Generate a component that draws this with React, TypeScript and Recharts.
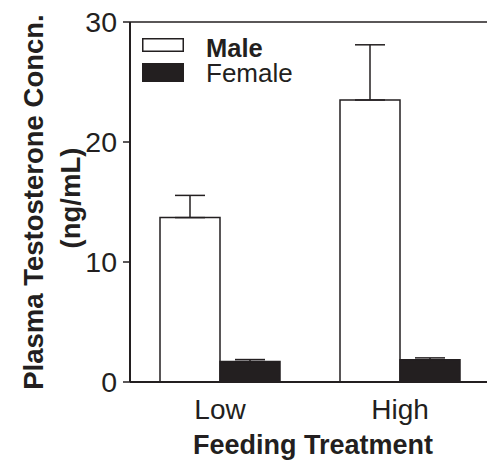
import { BarChart, Bar, XAxis, YAxis, ErrorBar, ReferenceLine, Label } from 'recharts'

const treatments = ['Low', 'High']
const maleMeans = [13.7, 23.5]
const maleSem = [1.85, 4.6]
const femaleMeans = [1.7, 1.85]
const femaleSem = [0.17, 0.16]
const yTicks = [0, 10, 20, 30]
const seriesNames = ['Male', 'Female']

const INK = '#231f20'
const FONT = '"Liberation Sans", Arial, Helvetica, sans-serif'

const data = treatments.map((t, i) => ({
  treatment: t,
  male: maleMeans[i],
  maleErr: [0, maleSem[i]],
  female: femaleMeans[i],
  femaleErr: [0, femaleSem[i]],
}))

function YTitle(props: any) {
  const vb = props.viewBox || { x: 0, y: 22, width: 130, height: 360 }
  const cy = vb.y + vb.height / 2
  const x1 = vb.x + 33
  const x2 = vb.x + 70
  return (
    <g>
      <text x={x1} y={cy} transform={`rotate(-90 ${x1} ${cy})`} textAnchor="middle" dominantBaseline="central"
        fontFamily={FONT} fontWeight="bold" fontSize={27.5} fill={INK}>
        Plasma Testosterone Concn.
      </text>
      <text x={x2} y={cy - 4} transform={`rotate(-90 ${x2} ${cy - 4})`} textAnchor="middle" dominantBaseline="central"
        fontFamily={FONT} fontWeight="bold" fontSize={27.5} fill={INK}>
        (ng/mL)
      </text>
    </g>
  )
}

export default function App() {
  return (
    <div style={{ position: 'absolute', left: 0, top: 0, width: 487, height: 462, overflow: 'hidden', background: '#fff' }}>
      <BarChart width={490} height={462} data={data} margin={{ top: 22, right: 0, left: 0, bottom: 0 }}
        barCategoryGap={30} barGap={0}>
        <XAxis dataKey="treatment" height={80} tickLine={false}
          axisLine={{ stroke: INK, strokeWidth: 2 }}
          tick={{ fontSize: 28, fill: INK, fontFamily: FONT }} tickMargin={11}>
          <Label value="Feeding Treatment" position="insideBottom" offset={8} dx={3}
            style={{ fontSize: 27, fontWeight: 'bold', fill: INK, fontFamily: FONT }} />
        </XAxis>
        <YAxis domain={[0, 30]} ticks={yTicks} width={130} tickSize={7} tickMargin={6}
          axisLine={{ stroke: INK, strokeWidth: 2 }} tickLine={{ stroke: INK, strokeWidth: 1.5 }}
          tick={{ fontSize: 28.5, fill: INK, fontFamily: FONT }} interval={0}>
          <Label content={<YTitle />} position="left" />
        </YAxis>
        <ReferenceLine y={30} stroke={INK} strokeWidth={1.5} />
        <Bar dataKey="male" name={seriesNames[0]} fill="#ffffff" stroke={INK} strokeWidth={1.5} isAnimationActive={false}>
          <ErrorBar dataKey="maleErr" direction="y" width={15} stroke={INK} strokeWidth={1.5} />
        </Bar>
        <Bar dataKey="female" name={seriesNames[1]} fill={INK} stroke={INK} strokeWidth={1.5} isAnimationActive={false}>
          <ErrorBar dataKey="femaleErr" direction="y" width={15} stroke={INK} strokeWidth={1.5} />
        </Bar>
      </BarChart>
      {/* legend */}
      <svg width={487} height={100} style={{ position: 'absolute', left: 0, top: 0 }}>
        <rect x={142.75} y={38.75} width={40.5} height={12.5} fill="#fff" stroke={INK} strokeWidth={1.5} />
        <text x={206} y={57} fontFamily={FONT} fontWeight="bold" fontSize={25.5} fill={INK}>{seriesNames[0]}</text>
        <rect x={142} y={63} width={42} height={19} fill={INK} />
        <text x={206} y={82} fontFamily={FONT} fontSize={26} fill={INK}>{seriesNames[1]}</text>
      </svg>
    </div>
  )
}
